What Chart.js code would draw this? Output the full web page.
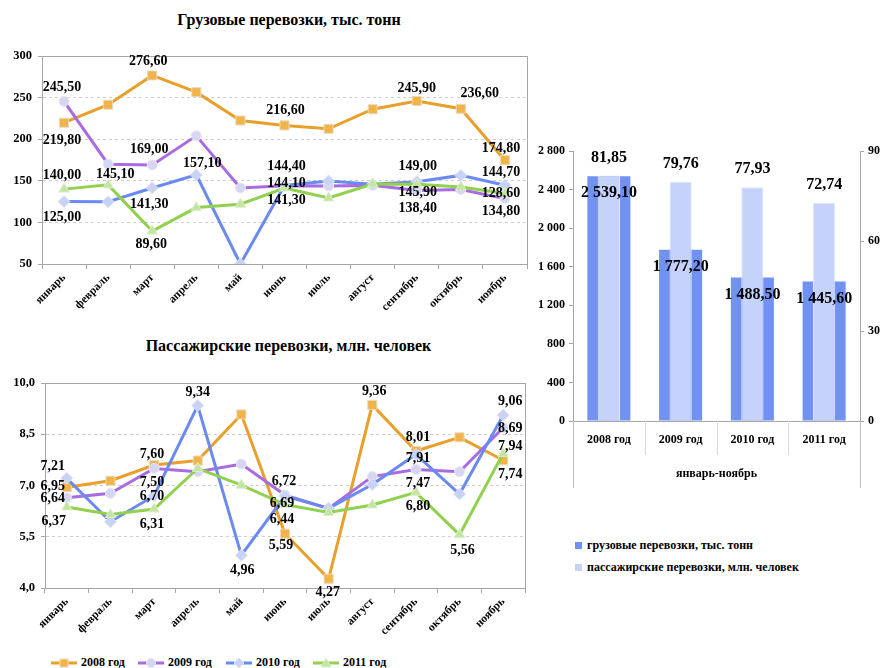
<!DOCTYPE html>
<html lang="ru">
<head>
<meta charset="utf-8">
<title>Грузовые и пассажирские перевозки</title>
<script src="https://cdn.jsdelivr.net/npm/chart.js@4.4.1/dist/chart.umd.min.js"></script>
<style>
  body { margin: 0; background: #fff; font-family: "Liberation Serif", "DejaVu Serif", serif; }
  #page { position: relative; width: 885px; height: 668px; overflow: hidden; }
  .title { position: absolute; font-weight: bold; font-size: 16px; line-height: 20px; text-align: center; white-space: nowrap; }
  canvas { position: absolute; }
  .leg { position: absolute; display: flex; align-items: center; font-weight: bold; font-size: 12px; white-space: nowrap; }
  .leg svg { margin-right: 4px; }
  .sq { display: inline-block; width: 7px; height: 7px; margin-right: 5px; }
</style>
</head>
<body>
<div id="page">
  <div class="title" style="left:0; top:10px; width:578px;">Грузовые перевозки, тыс. тонн</div>
  <div class="title" style="left:0; top:336px; width:577px;">Пассажирские перевозки, млн. человек</div>

  <canvas id="freightChart" width="540" height="290" style="left:0; top:40px;"></canvas>
  <canvas id="passengerChart" width="540" height="290" style="left:0; top:360px;"></canvas>
  <canvas id="totalChart" width="360" height="370" style="left:525px; top:130px;"></canvas>

  <div id="lineLegend"></div>

  <div class="leg" style="left:575px; top:538px;"><span class="sq" style="background:#7292F2"></span>грузовые перевозки, тыс. тонн</div>
  <div class="leg" style="left:575px; top:560px;"><span class="sq" style="background:#C5D2FA"></span>пассажирские перевозки, млн. человек</div>
</div>

<script>
// ---- data ----
const months = ["январь", "февраль", "март", "апрель", "май", "июнь", "июль", "август", "сентябрь", "октябрь", "ноябрь"];
const years = ["2008 год", "2009 год", "2010 год", "2011 год"];

// грузовые перевозки, тыс. тонн
const freight2008 = [219.8, 241.5, 276.6, 256.5, 222.5, 216.6, 212.5, 236.0, 245.9, 236.6, 174.8];
const freight2009 = [245.5, 170.0, 169.0, 204.0, 141.4, 144.1, 143.8, 144.5, 138.4, 139.5, 128.6];
const freight2010 = [125.0, 124.8, 141.3, 157.1, 50.0, 144.4, 149.8, 146.0, 149.0, 156.5, 144.7];
const freight2011 = [140.0, 145.1, 89.6, 117.8, 121.8, 141.3, 129.3, 146.2, 145.9, 142.5, 134.8];
const freightTicks = { min: 50, max: 300, step: 50 };

// пассажирские перевозки, млн. человек
const passenger2008 = [6.95, 7.14, 7.60, 7.73, 9.08, 5.59, 4.27, 9.36, 8.01, 8.41, 7.74];
const passenger2009 = [6.64, 6.77, 7.50, 7.40, 7.63, 6.72, 6.33, 7.26, 7.47, 7.40, 8.69];
const passenger2010 = [7.21, 5.94, 6.70, 9.34, 4.96, 6.69, 6.33, 7.03, 7.91, 6.75, 9.06];
const passenger2011 = [6.37, 6.15, 6.31, 7.50, 7.01, 6.44, 6.21, 6.43, 6.80, 5.56, 7.94];
const passengerTicks = { min: 4, max: 10, step: 1.5 };

// январь-ноябрь итого
const freightTotal = [2539.10, 1777.20, 1488.50, 1445.60];
const passengerTotal = [81.85, 79.76, 77.93, 72.74];
const totalLeftTicks = { min: 0, max: 2800, step: 400 };
const totalRightTicks = { min: 0, max: 90, step: 30 };

// ---- styles ----
const SERIF = '"Liberation Serif", "DejaVu Serif", serif';
Chart.defaults.font.family = SERIF;
Chart.defaults.font.weight = "bold";
Chart.defaults.color = "#000";

const seriesStyle = [
  { line: "#E8A02A", fill: "#F0B448", border: "#EAD9BE", point: "rect", radius: 6.4 },
  { line: "#A86CE0", fill: "#D6D6F2", border: "#E6E6F8", point: "circle", radius: 5 },
  { line: "#6A8AF0", fill: "#C8D2F4", border: "#DCE2F8", point: "rectRot", radius: 6 },
  { line: "#92D050", fill: "#C4E4A4", border: "#DDEFCB", point: "triangle", radius: 6 }
];
const AXIS = "#a6a6a6";

// where each value label sits relative to its point [dx, dy]
const freightLabelPos = [
  { 0: [-2, 18], 2: [-4, -14], 5: [1, -15], 8: [0, -13], 9: [19, -15], 10: [-4, -12] },
  { 0: [-2, -14], 2: [-3, -16], 5: [2, -2], 8: [1, 18], 10: [-4, -5] },
  { 0: [-2, 16], 2: [-3, 16], 3: [6, -12], 5: [2, -19], 8: [1, -15], 10: [-4, -13] },
  { 0: [-2, -14], 1: [7, -10], 2: [-1, 13], 5: [2, 12], 8: [1, 8], 10: [-4, 18] }
];
const passengerLabelPos = [
  { 0: [-14, -1], 2: [-2, -11], 5: [-4, 12], 6: [-1, 14], 7: [2, -13], 8: [2, -14], 10: [7, 14] },
  { 0: [-14, 1], 2: [-2, 14], 5: [-1, -14], 8: [2, 14], 10: [7, 1] },
  { 0: [-14, -12], 2: [-2, 1], 3: [0, -13], 4: [1, 15], 5: [-3, 7], 8: [2, 4], 10: [7, -14] },
  { 0: [-13, 14], 2: [-2, 15], 5: [-3, 15], 8: [2, 14], 9: [3, 16], 10: [7, -7] }
];

function fmt(v, digits) {
  let s = v.toFixed(digits).replace(".", ",");
  let [intPart, dec] = s.split(",");
  intPart = intPart.replace(/\B(?=(\d{3})+(?!\d))/g, " ");
  return dec !== undefined ? intPart + "," + dec : intPart;
}

// ---- plugins ----
function valueLabels(positions, font, digits) {
  return {
    id: "valueLabels",
    afterDatasetsDraw(chart) {
      const ctx = chart.ctx;
      ctx.save();
      ctx.font = font;
      ctx.fillStyle = "#000";
      ctx.textAlign = "center";
      ctx.textBaseline = "middle";
      chart.data.datasets.forEach((ds, di) => {
        const pos = positions[di];
        if (!pos) return;
        chart.getDatasetMeta(di).data.forEach((el, i) => {
          const off = typeof pos === "function" ? pos(i) : pos[i];
          if (!off) return;
          ctx.fillText(fmt(ds.data[i], digits), el.x + off[0], el.y + off[1]);
        });
      });
      ctx.restore();
    }
  };
}

const plotFrame = {
  id: "plotFrame",
  beforeDatasetsDraw(chart) {
    const { ctx, chartArea: a } = chart;
    ctx.save();
    ctx.strokeStyle = AXIS;
    ctx.lineWidth = 1;
    ctx.strokeRect(Math.round(a.left) + 0.5, Math.round(a.top) + 0.5, Math.round(a.right - a.left), Math.round(a.bottom - a.top));
    ctx.restore();
  }
};

const categoryDividers = {
  id: "categoryDividers",
  afterDraw(chart) {
    const { ctx, chartArea: a, scales } = chart;
    const n = chart.data.labels.length;
    ctx.save();
    ctx.lineWidth = 1;
    for (let i = 0; i <= n; i++) {
      const px = Math.round(scales.x.getPixelForValue(i - 0.5)) + 0.5;
      const outer = i === 0 || i === n;
      ctx.strokeStyle = outer ? "#bfbfbf" : "#d9d9d9";
      ctx.beginPath();
      ctx.moveTo(px, a.bottom);
      ctx.lineTo(px, a.bottom + (outer ? 67 : 34));
      ctx.stroke();
    }
    ctx.restore();
  }
};

// ---- line charts ----
function lineDatasets(seriesList) {
  return seriesList.map((values, i) => ({
    label: years[i],
    data: values,
    borderColor: seriesStyle[i].line,
    borderWidth: 3,
    backgroundColor: seriesStyle[i].fill,
    pointStyle: seriesStyle[i].point,
    pointRadius: seriesStyle[i].radius,
    pointBackgroundColor: seriesStyle[i].fill,
    pointBorderColor: seriesStyle[i].border,
    pointBorderWidth: 1,
    tension: 0,
    order: 4 - i
  }));
}

function lineChart(canvasId, seriesList, ticks, yWidth, xHeight, padding, labelPos, tickDigits) {
  new Chart(document.getElementById(canvasId), {
    type: "line",
    data: { labels: months, datasets: lineDatasets(seriesList) },
    options: {
      responsive: false,
      animation: false,
      layout: { padding: padding },
      plugins: { legend: { display: false }, tooltip: { enabled: false } },
      scales: {
        x: {
          offset: true,
          grid: { offset: true, drawOnChartArea: false, tickLength: 5, color: AXIS },
          border: { color: AXIS },
          ticks: { autoSkip: false, minRotation: 45, maxRotation: 45, padding: 2, font: { size: 11.5, weight: "bold" } },
          afterFit: s => { s.height = xHeight; }
        },
        y: {
          min: ticks.min,
          max: ticks.max,
          grid: { color: "#cfcfcf", tickLength: 4, tickColor: AXIS },
          border: { color: AXIS, dash: [3, 3] },
          ticks: {
            stepSize: ticks.step,
            padding: 6,
            font: { size: 12.5, weight: "bold" },
            callback: v => fmt(v, tickDigits)
          },
          afterFit: s => { s.width = yWidth; }
        }
      }
    },
    plugins: [plotFrame, valueLabels(labelPos, "bold 14px " + SERIF, 2)]
  });
}

lineChart("freightChart", [freight2008, freight2009, freight2010, freight2011], freightTicks,
  42, 66, { left: 0, top: 16, right: 13, bottom: 0 }, freightLabelPos, 0);
lineChart("passengerChart", [passenger2008, passenger2009, passenger2010, passenger2011], passengerTicks,
  45, 62, { left: 0, top: 23, right: 15, bottom: 0 }, passengerLabelPos, 1);

// ---- totals bar chart ----
new Chart(document.getElementById("totalChart"), {
  type: "bar",
  data: {
    labels: years,
    datasets: [
      {
        label: "грузовые перевозки, тыс. тонн",
        data: freightTotal,
        yAxisID: "y",
        backgroundColor: "#7292F2",
        borderWidth: 0,
        grouped: false,
        barPercentage: 0.6,
        categoryPercentage: 1,
        order: 2
      },
      {
        label: "пассажирские перевозки, млн. человек",
        data: passengerTotal,
        yAxisID: "y1",
        backgroundColor: "#C5D2FA",
        borderColor: "#E2E8FC",
        borderWidth: 1,
        grouped: false,
        barPercentage: 0.31,
        categoryPercentage: 1,
        order: 1
      }
    ]
  },
  options: {
    responsive: false,
    animation: false,
    layout: { padding: { left: 0, top: 21, right: 0, bottom: 19 } },
    plugins: { legend: { display: false }, tooltip: { enabled: false } },
    scales: {
      x: {
        offset: true,
        grid: { drawOnChartArea: false, drawTicks: false },
        border: { color: AXIS },
        ticks: { padding: 12, font: { size: 12, weight: "bold" } },
        title: { display: true, text: "январь-ноябрь", padding: 0, font: { size: 12, weight: "bold" } },
        afterFit: s => { s.height = 60; }
      },
      y: {
        position: "left",
        min: totalLeftTicks.min,
        max: totalLeftTicks.max,
        grid: { drawOnChartArea: false, tickLength: 4, color: AXIS },
        border: { color: AXIS },
        ticks: { stepSize: totalLeftTicks.step, padding: 4, font: { size: 12, weight: "bold" }, callback: v => fmt(v, 0) },
        afterFit: s => { s.width = 48; }
      },
      y1: {
        position: "right",
        min: totalRightTicks.min,
        max: totalRightTicks.max,
        grid: { drawOnChartArea: false, tickLength: 4, color: AXIS },
        border: { color: AXIS },
        ticks: { stepSize: totalRightTicks.step, padding: 4, font: { size: 12, weight: "bold" } },
        afterFit: s => { s.width = 25; }
      }
    }
  },
  plugins: [
    categoryDividers,
    valueLabels([i => [0, 17], i => [0, -18]], "bold 16px " + SERIF, 2)
  ]
});

// ---- legend for the two line charts ----
const legendX = [51, 138, 226, 313];
const legend = document.getElementById("lineLegend");
years.forEach((y, i) => {
  const st = seriesStyle[i];
  let marker = "";
  if (st.point === "rect") marker = `<rect x="9" y="2" width="8" height="8" fill="${st.fill}" stroke="${st.border}"/>`;
  if (st.point === "circle") marker = `<circle cx="13" cy="6" r="4.5" fill="${st.fill}" stroke="${st.border}"/>`;
  if (st.point === "rectRot") marker = `<polygon points="13,1 18,6 13,11 8,6" fill="${st.fill}" stroke="${st.border}"/>`;
  if (st.point === "triangle") marker = `<polygon points="13,1 18,10 8,10" fill="${st.fill}" stroke="${st.border}"/>`;
  const item = document.createElement("div");
  item.className = "leg";
  item.style.left = legendX[i] + "px";
  item.style.top = "655px";
  item.innerHTML = `<svg width="26" height="12"><line x1="0" y1="6" x2="26" y2="6" stroke="${st.line}" stroke-width="3"/>${marker}</svg>${y}`;
  legend.appendChild(item);
});
</script>
</body>
</html>
